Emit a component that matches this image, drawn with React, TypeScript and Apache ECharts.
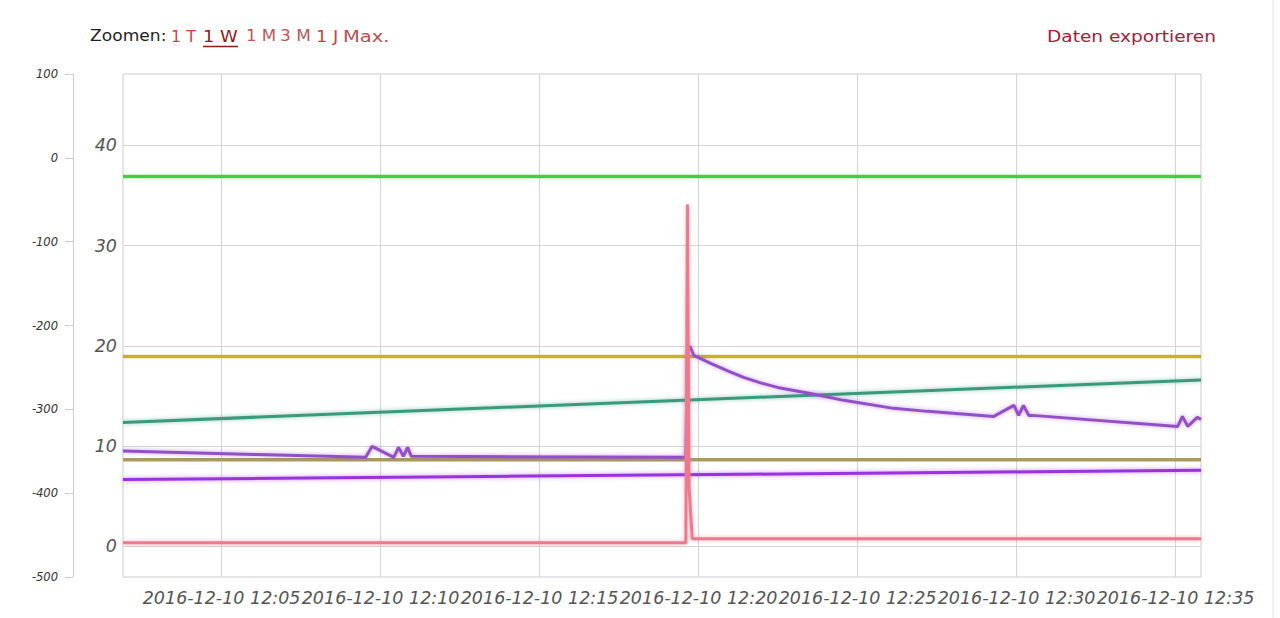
import React, { useEffect, useRef } from "react";
import * as echarts from "echarts";

// ---- Data (inner axis values) ----
const xTickTimes = ["12:05", "12:10", "12:15", "12:20", "12:25", "12:30", "12:35"];
const xStart = "12:01:54";
const xEnd = "12:35:48";

const innerTicks = [0, 10, 20, 30, 40];

const greenTimes = ["12:01:54", "12:35:48"];
const greenValues = [36.89, 36.89];

const yellowTimes = ["12:01:54", "12:35:48"];
const yellowValues = [18.94, 18.94];

const tealTimes = ["12:01:54", "12:35:48"];
const tealValues = [12.36, 16.6];

const khakiTimes = ["12:01:54", "12:35:48"];
const khakiValues = [8.64, 8.64];

const violetTimes = ["12:01:54", "12:35:48"];
const violetValues = [6.65, 7.58];

const purpleTimes = [
  "12:01:54", "12:09:32", "12:09:44", "12:10:25", "12:10:34", "12:10:43", "12:10:51", "12:10:58",
  "12:19:36", "12:19:39", "12:19:44", "12:19:51", "12:20:23", "12:20:55", "12:21:25", "12:21:57",
  "12:22:29", "12:23:31", "12:24:34", "12:26:08", "12:27:12", "12:29:17", "12:29:55", "12:30:04",
  "12:30:13", "12:30:23", "12:30:30", "12:35:04", "12:35:13", "12:35:23", "12:35:41", "12:35:48",
];
const purpleValues = [
  9.5, 8.87, 9.97, 8.87, 9.87, 8.97, 9.87, 8.97,
  8.87, 19.6, 19.94, 19.04, 18.25, 17.5, 16.85, 16.3,
  15.85, 15.25, 14.56, 13.76, 13.46, 12.96, 14.06, 13.06,
  14.06, 13.06, 13.06, 11.96, 12.96, 11.96, 12.86, 12.66,
];

const pinkTimes = ["12:01:54", "12:19:36", "12:19:39", "12:19:42", "12:19:48", "12:35:48"];
const pinkValues = [0.35, 0.35, 34.1, 6.0, 0.75, 0.75];

const outerMin = -500;
const outerMax = 100;
const outerStep = 100;

const zoomLabel = "Zoomen:";
const zoomItems = ["1 T", "1 W", "1 M", "3 M", "1 J", "Max."];
const exportLabel = "Daten exportieren";

// ---- helpers ----
function ts(s: string): number {
  const p = s.split(":").map(Number);
  return new Date(2016, 11, 10, p[0], p[1], p[2] || 0).getTime();
}
function pad(n: number) {
  return n < 10 ? "0" + n : "" + n;
}
function pairs(times: string[], values: number[]) {
  return times.map((t, i) => [ts(t), values[i]]);
}
function hexA(hex: string, a: number) {
  const r = parseInt(hex.slice(1, 3), 16);
  const g = parseInt(hex.slice(3, 5), 16);
  const b = parseInt(hex.slice(5, 7), 16);
  return `rgba(${r},${g},${b},${a})`;
}

const seriesDefs = [
  { name: "green", times: greenTimes, values: greenValues, color: "#46cc46" },
  { name: "yellow", times: yellowTimes, values: yellowValues, color: "#c6b22a" },
  { name: "teal", times: tealTimes, values: tealValues, color: "#3a9a7c" },
  { name: "khaki", times: khakiTimes, values: khakiValues, color: "#a89c5c" },
  { name: "violet", times: violetTimes, values: violetValues, color: "#9a32de" },
  { name: "purple", times: purpleTimes, values: purpleValues, color: "#9450c8" },
  { name: "pink", times: pinkTimes, values: pinkValues, color: "#ec7a8e" },
];

export default function App() {
  const ref = useRef<HTMLDivElement>(null);

  useEffect(() => {
    if (!ref.current) return;
    const chart = echarts.init(ref.current, undefined, { renderer: "svg" });

    const zoomX = [171, 203, 246, 280, 316, 343];
    const zoomScale = [1.0, 1.12, 1.04, 1.06, 1.12, 1.22];
    const zoomColors = ["#c84848", "#8e1a1a", "#b45a5a", "#b45a5a", "#c04848", "#b45050"];
    const topFont = "16px 'DejaVu Sans'";

    const graphics: any[] = [
      {
        type: "text",
        x: 90,
        y: 36,
        scaleX: 1.07,
        style: { text: zoomLabel, fill: "#222", font: topFont, textVerticalAlign: "middle" },
      },
      ...zoomItems.map((z, i) => ({
        type: "text",
        x: zoomX[i],
        y: 36,
        scaleX: zoomScale[i],
        style: { text: z, fill: zoomColors[i], font: topFont, textVerticalAlign: "middle" },
      })),
      {
        type: "line",
        shape: { x1: 203, y1: 46.5, x2: 238, y2: 46.5 },
        style: { stroke: "#8e1a1a", lineWidth: 1.5 },
      },
      {
        type: "text",
        x: 1047,
        y: 36,
        scaleX: 1.16,
        style: { text: exportLabel, fill: "#a3213a", font: topFont, textVerticalAlign: "middle" },
      },
      {
        type: "line",
        shape: { x1: 1273, y1: 0, x2: 1273, y2: 618 },
        style: { stroke: "#e4e4e4", lineWidth: 1 },
      },
    ];

    chart.setOption({
      animation: false,
      backgroundColor: "#ffffff",
      graphic: graphics,
      grid: {
        left: 123,
        right: 79,
        top: 74,
        bottom: 41,
        show: true,
        borderColor: "#cccccc",
        borderWidth: 1,
        backgroundColor: "#ffffff",
      },
      xAxis: {
        type: "value",
        min: ts(xStart),
        max: ts(xEnd),
        axisLine: { show: false },
        axisTick: { show: false, customValues: xTickTimes.map(ts) },
        splitLine: { show: true, lineStyle: { color: "#d4d4d4", width: 1 } },
        axisLabel: {
          customValues: xTickTimes.map(ts),
          hideOverlap: false,
          showMinLabel: true,
          showMaxLabel: true,
          margin: 12,
          color: "#555",
          fontStyle: "italic",
          fontFamily: "'DejaVu Sans'",
          fontSize: 17.5,
          formatter: (v: number) => {
            const d = new Date(v);
            return `2016-12-10 ${pad(d.getHours())}:${pad(d.getMinutes())}`;
          },
        },
      },
      yAxis: [
        {
          type: "value",
          position: "left",
          min: -3.07,
          max: 47.13,
          axisLine: { show: false },
          axisTick: { show: false, customValues: innerTicks },
          splitLine: { show: true, lineStyle: { color: "#d4d4d4", width: 1 } },
          axisLabel: {
            customValues: innerTicks,
            margin: 6,
            color: "#555",
            fontStyle: "italic",
            fontFamily: "'DejaVu Sans'",
            fontSize: 17.5,
          },
        },
        {
          type: "value",
          position: "left",
          offset: 50,
          min: outerMin,
          max: outerMax,
          interval: outerStep,
          axisLine: { show: true, lineStyle: { color: "#cccccc" } },
          axisTick: { show: true, length: 8, lineStyle: { color: "#cccccc" } },
          splitLine: { show: false },
          axisLabel: {
            margin: 15,
            color: "#333",
            fontStyle: "italic",
            fontFamily: "'DejaVu Sans'",
            fontSize: 11.5,
          },
        },
      ],
      series: seriesDefs.map((s) => {
        const flat = s.values.every((v) => v === s.values[0]);
        return {
          name: s.name,
          type: "line",
          yAxisIndex: 0,
          symbol: "none",
          data: pairs(s.times, s.values),
          lineStyle: flat
            ? { color: s.color, width: 3.5 }
            : {
                color: s.color,
                width: 3,
                shadowColor: hexA(s.color, 0.55),
                shadowBlur: 4,
              },
          itemStyle: { color: s.color },
          emphasis: { disabled: true },
        };
      }),
    });

    return () => chart.dispose();
  }, []);

  return (
    <div
      ref={ref}
      style={{ position: "fixed", left: 0, top: 0, width: 1280, height: 618, background: "#fff" }}
    />
  );
}
